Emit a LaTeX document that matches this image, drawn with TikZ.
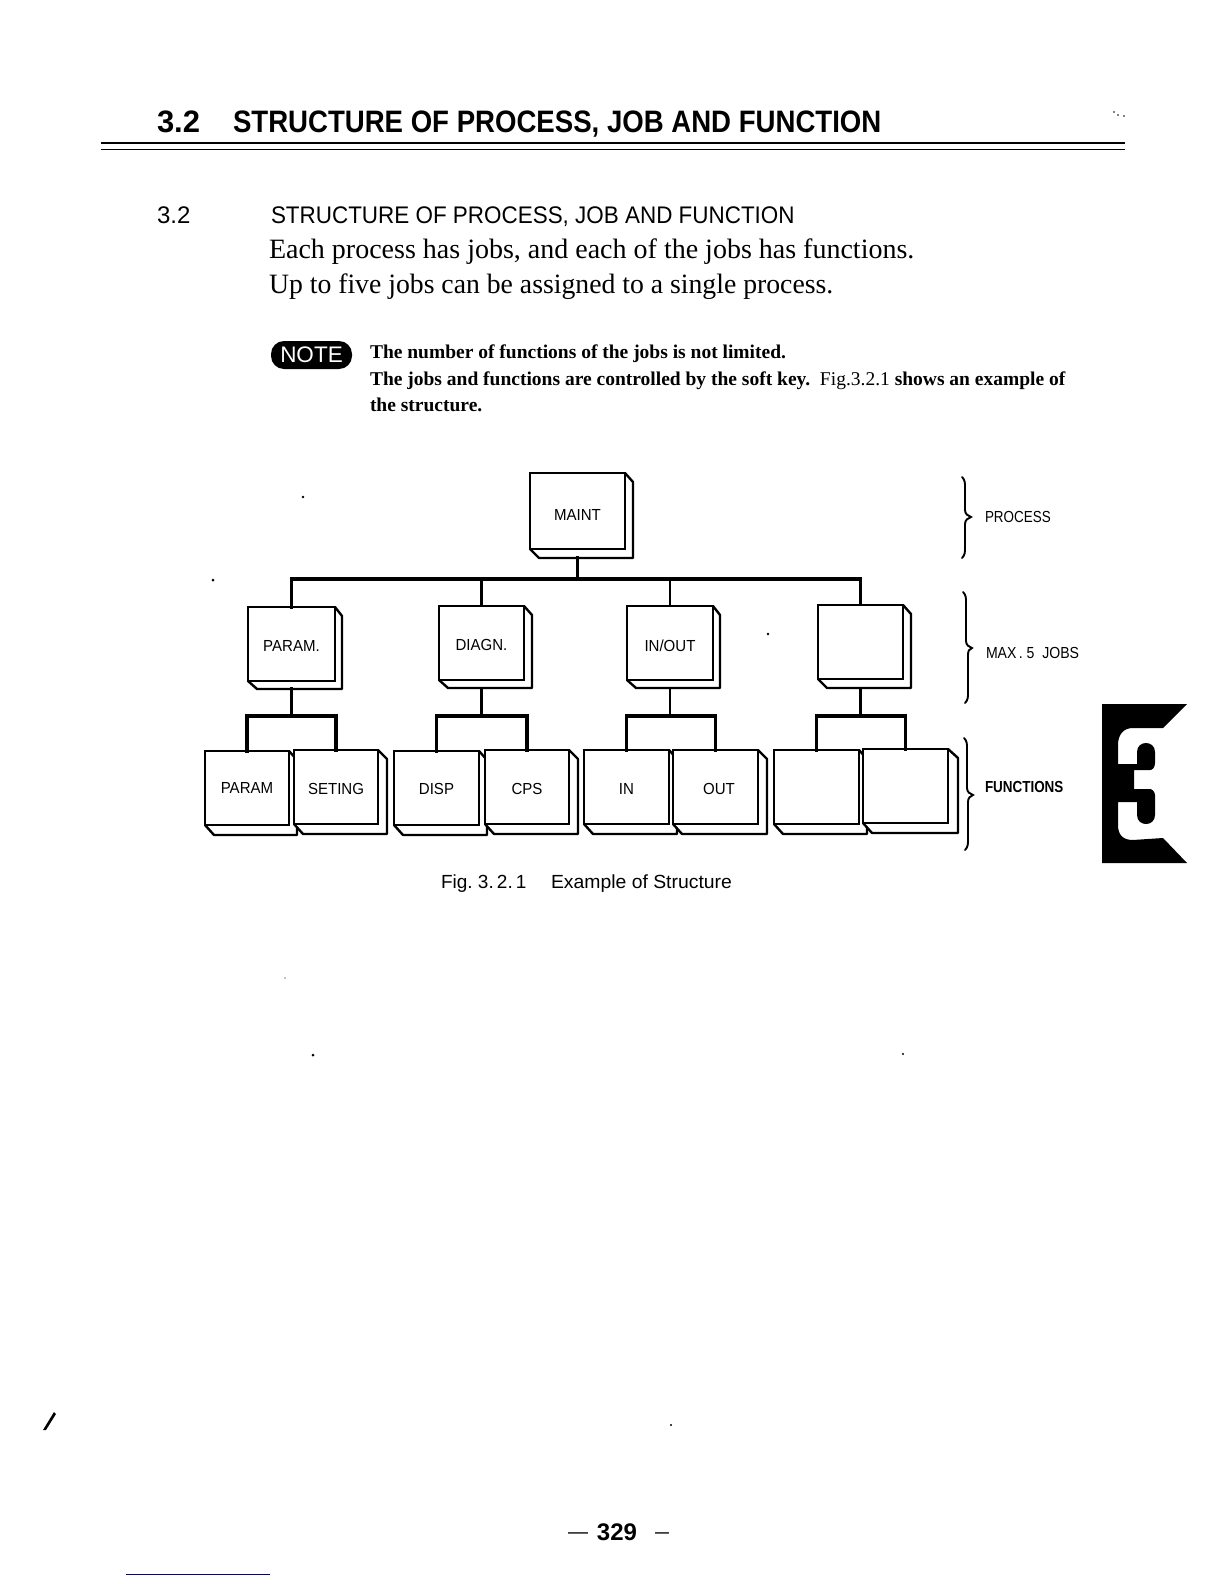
\documentclass[tikz,border=0pt]{standalone}
\usepackage{fontspec}
\setmainfont{Liberation Serif}
\setsansfont{Liberation Sans}
\usetikzlibrary{calc}
\newcommand{\fsz}[1]{\fontsize{#1}{#1}\selectfont}
\tikzset{
  x=1pt,y=-1pt,
  frontbox/.style={draw,fill=white,line width=2.8pt,inner sep=0pt,outer sep=0pt,text height=6pt,text depth=6pt,font=\sffamily\fsz{16}},
  backbox/.style={draw,fill=white,line width=2.4pt,line join=round},
  busline/.style={line width=3.2pt,line cap=rect},
  thinbus/.style={line width=2.6pt},
  bracket/.style={line width=1.9pt,line cap=round},
  lab/.style={anchor=base west,inner sep=0pt,outer sep=0pt},
  sidelab/.style={lab,font=\sffamily\fsz{16}},
  notetxt/.style={lab,font=\bfseries\fsz{19.5}},
  bodytxt/.style={lab,font=\fsz{28}},
  speck/.style={fill=black,inner sep=0pt,circle}
}
\newcommand{\lift}[2]{\raisebox{-\dimexpr5.75pt+#1pt\relax}{\scalebox{0.94}[1]{#2}}}
\newcommand{\jobbox}[8]{%
  \pgfmathsetmacro{\bw}{#4-#2}\pgfmathsetmacro{\bh}{#5-#3}%
  \pgfmathsetmacro{\bcx}{(#2+#4)/2}\pgfmathsetmacro{\bcy}{(#3+#5)/2}%
  \draw[backbox] (#2,#5) -- (#2+9,#7) -- (#6,#7) -- (#6,#3+9) -- (#4,#3);
  \node[frontbox,minimum width=\bw pt,minimum height=\bh pt] (#1) at (\bcx,\bcy) {#8};
  \coordinate (#1low) at (\bcx,#7);
}
\newcommand{\brk}[7]{% x top-y mid-y bot-y tip-x lower-x name
  \coordinate (#7) at (#5,#3);
  \draw[bracket] (#1-3,#2) .. controls (#1,#2+3) and (#1,#2+6) .. (#1,#2+10)
     -- (#1,#3-7) .. controls (#1,#3-3) and (#5-3,#3-1) .. (#7)
     .. controls (#5-3,#3+1) and (#6,#3+3) .. (#6,#3+7)
     -- (#6,#4-10) .. controls (#6,#4-6) and (#6,#4-3) .. (#6-3,#4);
}
\begin{document}
\begin{tikzpicture}
\useasboundingbox (0,0) rectangle (1224,1584);
\fill[white] (0,0) rectangle (1224,1584);

% header
\node[lab,font=\sffamily\bfseries\fsz{31}] (hnum) at (157,132) {3.2};
\node[lab,font=\sffamily\bfseries\fsz{31}] (htitle) at (233,132) {\scalebox{0.89}[1]{STRUCTURE OF PROCESS, JOB AND FUNCTION}};
\draw[line width=1.4pt] (101,143) coordinate (ra) -- (1125,143) coordinate (rb);
\draw[line width=1pt] (101,149) coordinate (rc) -- (1125,149) coordinate (rd);

% section text
\node[lab,font=\sffamily\fsz{24}] (snum) at (157,223) {3.2};
\node[lab,font=\sffamily\fsz{24}] (stitle) at (271,223) {\scalebox{0.935}[1]{STRUCTURE OF PROCESS, JOB AND FUNCTION}};
\node[bodytxt] (l1) at (269,258) {Each process has jobs, and each of the jobs has functions.};
\node[bodytxt] (l2) at (269,293) {\scalebox{0.99}[1]{Up to five jobs can be assigned to a single process.}};

% NOTE
\node[fill=black,text=white,rounded corners=13pt,minimum width=81pt,minimum height=28pt,inner sep=0pt,font=\sffamily\fsz{22.5}] (note) at (311.5,355) {NOTE};
\node[notetxt] (n1) at (370,358.5) {The number of functions of the jobs is not limited.};
\node[notetxt] (n2) at (370,385) {The jobs and functions are controlled by the soft key.\ \ {\mdseries Fig.3.2.1} shows an example of};
\node[notetxt] (n3) at (370,411) {the structure.};

% buses
\coordinate (bus) at (0,579);
\coordinate (subp) at (0,716);
\coordinate (subd) at (0,716);
\coordinate (subi) at (0,716);
\coordinate (subb) at (0,716);

% boxes
\jobbox{maint}{530}{473}{625}{549}{633}{558}{\lift{4}{MAINT}}
\jobbox{jparam}{248}{607}{335}{681}{342}{689}{\lift{2}{PARAM.}}
\jobbox{jdiagn}{439}{606}{524}{680}{532}{688}{\lift{2}{DIAGN.}}
\jobbox{jinout}{627}{606}{713}{680}{720}{688}{\lift{3}{IN/OUT}}
\jobbox{jblank}{818}{605}{903}{679}{911}{688}{}
\jobbox{fparam}{205}{751}{289}{825}{297}{835}{\lift{0}{PARAM}}
\jobbox{fset}{294}{750}{378}{824}{387}{834}{\lift{1.5}{SETING}}
\jobbox{fdisp}{394}{751}{479}{825}{487}{835}{\lift{1}{DISP}}
\jobbox{fcps}{485}{750}{569}{824}{578}{834}{\lift{1.5}{CPS}}
\jobbox{fin}{584}{750}{669}{824}{677}{834}{\lift{1.5}{IN}}
\jobbox{fout}{673}{750}{758}{824}{767}{834}{\hspace{7pt}\lift{2}{OUT}}
\jobbox{fb1}{774}{750}{859}{824}{867}{834}{}
\jobbox{fb2}{863}{749}{948}{823}{958}{833}{}

% connectors: process to jobs
\draw[busline] (jparam.north |- bus) -- (jblank.north |- bus);
\draw[busline] (maintlow) -- (maintlow |- bus);
\draw[busline] (jparam.north) -- (jparam.north |- bus);
\draw[thinbus] (jdiagn.north) -- (jdiagn.north |- bus);
\draw[thinbus] (jinout.north) -- (jinout.north |- bus);
\draw[thinbus] (jblank.north) -- (jblank.north |- bus);

% connectors: jobs to functions
\draw[busline] (jparamlow) -- (jparamlow |- subp);
\draw[busline] (fparam.north) -- (fparam.north |- subp) -- (fset.north |- subp) -- (fset.north);
\draw[thinbus] (jdiagnlow) -- (jdiagnlow |- subd);
\draw[busline] (fdisp.north) -- (fdisp.north |- subd) -- (fcps.north |- subd) -- (fcps.north);
\draw[thinbus] (jinoutlow) -- (jinoutlow |- subi);
\draw[busline] (fin.north) -- (fin.north |- subi) -- (fout.north |- subi) -- (fout.north);
\draw[thinbus] (jblanklow) -- (jblanklow |- subb);
\draw[busline] (fb1.north) -- (fb1.north |- subb) -- (fb2.north |- subb) -- (fb2.north);

% brackets
\brk{965}{477}{517}{558}{971}{965}{tipa}
\brk{966}{592}{648}{703}{972}{968}{tipb}
\brk{967}{738}{795}{850}{973}{968}{tipc}
\node[sidelab] (lp) at (985,522) {\scalebox{0.84}[1]{PROCESS}};
\node[sidelab] (lm) at (986,658) {\scalebox{0.88}[1]{MAX\,.\ 5\ \ JOBS}};
\node[sidelab,font=\sffamily\bfseries\fsz{16}] (lf) at (985,792) {\scalebox{0.84}[1]{FUNCTIONS}};

% caption
\node[lab,font=\sffamily\fsz{19}] (cap1) at (441,888) {Fig.\ 3.\,2.\,1};
\node[lab,font=\sffamily\fsz{19}] (cap2) at (551,888) {\scalebox{1.02}[1]{Example of Structure}};

% chapter tab
\fill[black] (1102,704) -- (1187,704) -- (1163,728) -- (1133,728)
  .. controls (1123,728) and (1118,735) .. (1118,745) -- (1118,764) -- (1137,764) -- (1137,752)
  .. controls (1137,740) and (1155,740) .. (1155,752) -- (1155,763)
  .. controls (1155,768) and (1152,770) .. (1150,770) -- (1134,770) -- (1134,789) -- (1150,789)
  .. controls (1152,789) and (1155,792) .. (1155,795) -- (1155,815)
  .. controls (1155,827) and (1137,827) .. (1137,815) -- (1137,802) -- (1118,802) -- (1118,825)
  .. controls (1118,835) and (1123,840) .. (1133,840) -- (1163,838) -- (1187,863) -- (1102,863) -- cycle;

% page number
\node[anchor=base,inner sep=0pt,font=\sffamily\bfseries\fsz{24}] (pg) at (617,1540) {329};
\node[anchor=base,inner sep=0pt,font=\sffamily\fsz{20}] (d1) at (578,1538) {—};
\node[anchor=base,inner sep=0pt,font=\sffamily\fsz{20}] (d2) at (662,1538) {\scalebox{0.7}[1]{—}};

% specks and marks
\foreach \sx/\sy/\sd in {303/497/2.6,213/580/3,768/634/2.8,1114/112/1.8,1118/115/1.6,1124/116/1.6,285/978/1.4,313/1055/3,903/1054/2.4,671/1425/2.4}
  \node[speck,minimum size=\sd pt] at (\sx,\sy) {};
\fill (43,1430) -- (54,1412) -- (56,1414) -- (46,1430) -- cycle;
\draw[blue!60!black,line width=0.8pt] (126,1574) coordinate (ba) -- (270,1574) coordinate (bb);
\end{tikzpicture}
\end{document}
